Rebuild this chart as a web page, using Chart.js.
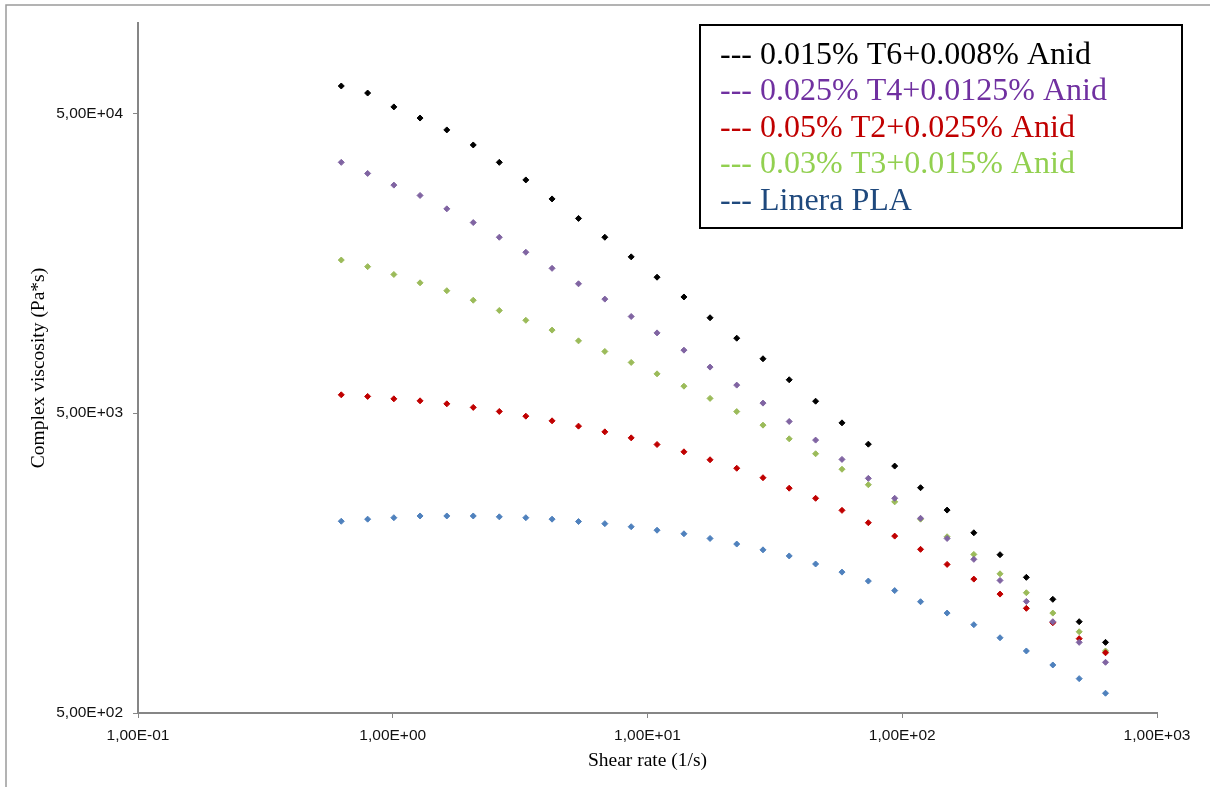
<!DOCTYPE html>
<html>
<head>
<meta charset="utf-8">
<script src="https://cdn.jsdelivr.net/npm/chart.js@4.4.1/dist/chart.umd.min.js"></script>
<style>
  html, body { margin: 0; padding: 0; background: #ffffff; }
  #wrap { width: 1210px; height: 787px; position: relative; }
</style>
</head>
<body>
<div id="wrap"><canvas id="chart"></canvas></div>
<script>
// Shear rate (1/s) of each measurement point
const shearRate = [0.628, 0.797, 1.01, 1.28, 1.63, 2.07, 2.62, 3.33, 4.22, 5.36,
                   6.80, 8.63, 10.9, 13.9, 17.6, 22.4, 28.4, 36.0, 45.7, 58.0,
                   73.6, 93.4, 118, 150, 191, 242, 307, 390, 495, 628];

// Complex viscosity (Pa*s) per formulation
const viscT6 = [61650, 58400, 52500, 48200, 44000, 39200, 34300, 29970, 25900, 22300,
                19300, 16600, 14200, 12200, 10400, 8890, 7590, 6460, 5480, 4640,
                3940, 3330, 2820, 2375, 1995, 1686, 1417, 1197, 1008, 860];
const viscT4 = [34300, 31500, 28800, 26600, 24000, 21600, 19300, 17200, 15200, 13500,
                12000, 10500, 9260, 8110, 7120, 6200, 5400, 4690, 4065, 3505,
                3030, 2600, 2230, 1910, 1627, 1384, 1178, 1008, 860, 738];
const viscT2 = [5755, 5685, 5580, 5495, 5370, 5225, 5065, 4885, 4713, 4525,
                4330, 4135, 3930, 3715, 3495, 3275, 3045, 2810, 2600, 2370,
                2155, 1945, 1757, 1565, 1398, 1246, 1117, 1000, 885, 794];
const viscT3 = [16200, 15400, 14500, 13600, 12800, 11900, 11000, 10200, 9460, 8710,
                8030, 7380, 6760, 6150, 5600, 5060, 4560, 4105, 3660, 3250,
                2885, 2530, 2215, 1935, 1690, 1456, 1259, 1077, 933, 805];
const viscPLA = [2180, 2215, 2240, 2270, 2270, 2270, 2255, 2240, 2215, 2175,
                 2140, 2090, 2035, 1980, 1910, 1830, 1750, 1670, 1570, 1475,
                 1377, 1280, 1175, 1077, 985, 891, 805, 723, 651, 582];

const seriesLabels = ['0.015% T6+0.008% Anid', '0.025% T4+0.0125% Anid',
                      '0.05% T2+0.025% Anid', '0.03% T3+0.015% Anid', 'Linera PLA'];
const seriesValues = [viscT6, viscT4, viscT2, viscT3, viscPLA];
const markerColors = ['#000000', '#8064A2', '#C00000', '#9BBB59', '#4F81BD'];
const legendColors = ['#000000', '#7030A0', '#C00000', '#92D050', '#1F497D'];

// Axis tick values
const xTicks = [0.1, 1, 10, 100, 1000];
const yTicks = [500, 5000, 50000];

function sciComma(v) {
  const parts = v.toExponential(2).split('e');
  const e = parseInt(parts[1], 10);
  return parts[0].replace('.', ',') + 'E' + (e < 0 ? '-' : '+') + String(Math.abs(e)).padStart(2, '0');
}

const datasets = seriesValues.map((vals, i) => ({
  label: seriesLabels[i],
  data: vals.map((v, j) => ({ x: shearRate[j], y: v })),
  showLine: false,
  pointStyle: 'rectRot',
  pointRadius: 3,
  pointBorderWidth: 1,
  pointBackgroundColor: markerColors[i],
  pointBorderColor: markerColors[i]
}));

// Outer frame and boxed legend with coloured text
const decorPlugin = {
  id: 'decor',
  beforeDraw(chart) {
    const ctx = chart.ctx;
    ctx.save();
    ctx.fillStyle = '#ffffff';
    ctx.fillRect(0, 0, chart.width, chart.height);
    ctx.strokeStyle = '#9a9a9a';
    ctx.lineWidth = 1.5;
    ctx.strokeRect(6, 5, chart.width + 50, chart.height + 50);
    ctx.restore();
  },
  afterDraw(chart) {
    const ctx = chart.ctx;
    ctx.save();
    ctx.fillStyle = '#ffffff';
    ctx.fillRect(700, 25, 482, 203);
    ctx.strokeStyle = '#000000';
    ctx.lineWidth = 2;
    ctx.strokeRect(700, 25, 482, 203);
    ctx.font = '32px "Liberation Serif", "Times New Roman", serif';
    ctx.textAlign = 'left';
    ctx.textBaseline = 'alphabetic';
    seriesLabels.forEach((t, i) => {
      ctx.fillStyle = legendColors[i];
      ctx.fillText('--- ' + t, 720, 63.5 + i * 36.6);
    });
    ctx.restore();
  }
};

const axisGrey = '#868686';
const tickFont = { family: '"Liberation Sans", Arial, sans-serif', size: 15.5 };
const titleFont = { family: '"Liberation Serif", "Times New Roman", serif', size: 19.5 };

new Chart(document.getElementById('chart'), {
  type: 'scatter',
  data: { datasets },
  plugins: [decorPlugin],
  options: {
    responsive: true,
    maintainAspectRatio: false,
    animation: false,
    devicePixelRatio: 1,
    layout: { padding: { left: 0, top: 23, right: 53, bottom: 0 } },
    plugins: { legend: { display: false }, tooltip: { enabled: false } },
    scales: {
      x: {
        type: 'logarithmic',
        min: 0.1,
        max: 1000,
        afterBuildTicks: s => { s.ticks = xTicks.map(v => ({ value: v })); },
        afterFit: s => { s.height = 74; },
        ticks: {
          callback: v => sciComma(v),
          font: tickFont,
          color: '#111111',
          padding: 8,
          maxRotation: 0,
          autoSkip: false
        },
        grid: { drawOnChartArea: false, drawTicks: true, tickLength: 5, tickColor: axisGrey, lineWidth: 1 },
        border: { display: true, color: axisGrey, width: 2 },
        title: { display: true, text: 'Shear rate (1/s)', font: titleFont, color: '#000000', padding: { top: 0, bottom: 14 } }
      },
      y: {
        type: 'logarithmic',
        min: 500,
        max: 100000,
        afterBuildTicks: s => { s.ticks = yTicks.map(v => ({ value: v })); },
        afterFit: s => { s.width = 138; },
        ticks: {
          callback: v => sciComma(v),
          font: tickFont,
          color: '#111111',
          padding: 10,
          autoSkip: false
        },
        grid: { drawOnChartArea: false, drawTicks: true, tickLength: 5, tickColor: axisGrey, lineWidth: 1 },
        border: { display: true, color: axisGrey, width: 2 },
        title: { display: true, text: 'Complex viscosity (Pa*s)', font: titleFont, color: '#000000', padding: { top: 27, bottom: 0 } }
      }
    }
  }
});
</script>
</body>
</html>
